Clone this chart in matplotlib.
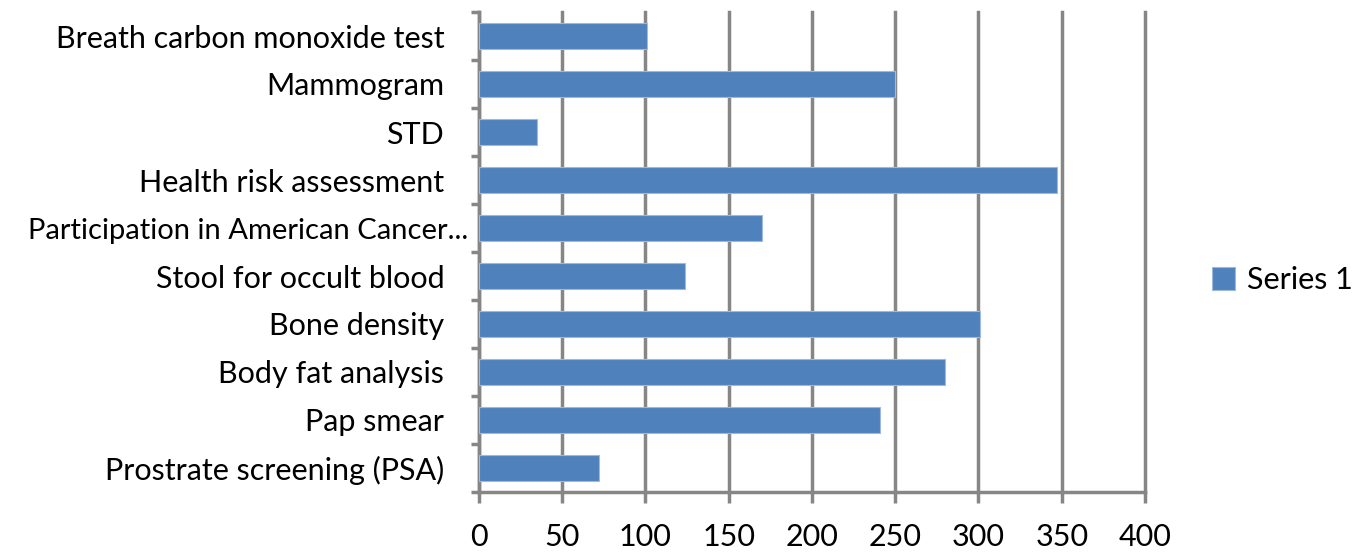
import numpy as np
import matplotlib

matplotlib.use('Agg')

import matplotlib.pyplot as plt
from matplotlib.ticker import FixedLocator
from matplotlib.transforms import ScaledTranslation

categories = ['Breath carbon monoxide test', 'Mammogram', 'STD',
              'Health risk assessment', 'Participation in American Cancer...',
              'Stool for occult blood', 'Bone density', 'Body fat analysis',
              'Pap smear', 'Prostrate screening (PSA)']
values = [101, 250, 35, 347, 170, 124, 301, 280, 241, 72]
xticks = [0, 50, 100, 150, 200, 250, 300, 350, 400]

plt.rcParams['font.family'] = ['Lato', 'DejaVu Sans']
grid_col = '#868686'

fig = plt.figure(figsize=(13.65, 5.56), dpi=100)
ax = fig.add_axes([479/1365, 1-492/556, (1145-479)/1365, 480/556])

n = len(categories)
ypos = np.arange(n)[::-1]
bars = ax.barh(ypos, values, height=0.56, color='#4F81BD', edgecolor='#9DB9DE',
               linewidth=0.8, zorder=3, label='Series 1')

ax.set_xlim(0, 400)
ax.set_ylim(-0.5, n - 0.5)
ax.set_xticks(xticks)
ax.set_xticklabels([str(t) for t in xticks], fontsize=22)
ax.set_yticks(ypos)
ax.set_yticklabels(categories, fontsize=22)
ax.yaxis.set_minor_locator(FixedLocator(np.arange(n + 1) - 0.5))

ax.tick_params(axis='y', which='major', length=0, pad=25)
ax.tick_params(axis='y', which='minor', length=6, width=2.5, color=grid_col)
ax.tick_params(axis='x', which='major', length=8, width=2.5, color=grid_col, pad=14)

# the long truncated label sits closer to the axis so it fits
long_lbl = ax.get_yticklabels()[4]
long_lbl.set_fontsize(21)
long_lbl.set_transform(long_lbl.get_transform() +
                       ScaledTranslation(0.24, 0, fig.dpi_scale_trans))

ax.grid(axis='x', color=grid_col, linewidth=2.5, zorder=0)
for gl in ax.xaxis.get_gridlines():
    gl.set_clip_on(False)
for s in ['top', 'right']:
    ax.spines[s].set_visible(False)
for s in ['left', 'bottom']:
    ax.spines[s].set_color(grid_col)
    ax.spines[s].set_linewidth(2.5)

fig.legend(handles=[bars], labels=['Series 1'], loc='center left',
           bbox_to_anchor=(1212/1365, 1-280/556), frameon=False, fontsize=22,
           handlelength=0.75, handleheight=0.75, handletextpad=0.4,
           borderpad=0, borderaxespad=0)

fig.savefig('out.png', dpi=100)
